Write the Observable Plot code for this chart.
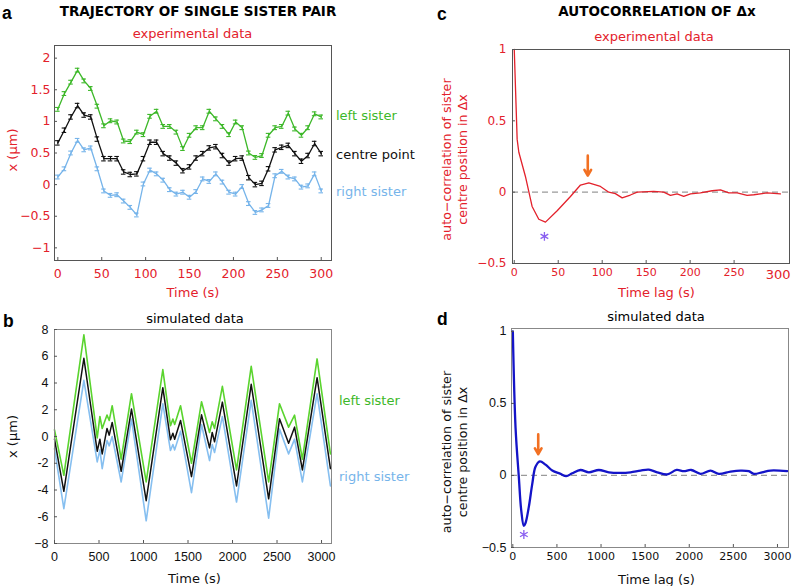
<!DOCTYPE html>
<html><head><meta charset="utf-8">
<script src="https://cdn.jsdelivr.net/npm/d3@7"></script>
<script src="https://cdn.jsdelivr.net/npm/@observablehq/plot@0.6"></script>
<style>
body{margin:0;background:#fff;}
#fig{position:relative;width:794px;height:586px;overflow:hidden;background:#fff;font-family:"DejaVu Sans",sans-serif;}
.t{position:absolute;white-space:nowrap;line-height:1;}
</style></head><body><div id="fig"></div><script>
// ---------- Panel a: experimental trajectory (time in s, x in µm) ----------
const timeA = [0,7.5,15,22.5,30,37.5,45,52.5,60,67.5,75,82.5,90,97.5,105,112.5,120,127.5,135,142.5,150,157.5,165,172.5,180,187.5,195,202.5,210,217.5,225,232.5,240,247.5,255,262.5,270,277.5,285,292.5,300];
const leftA = [1.19,1.44,1.62,1.81,1.64,1.52,1.24,0.93,1.01,0.99,0.69,0.68,0.83,0.79,1.08,1.16,0.92,0.92,0.83,0.57,0.78,0.90,0.90,1.16,1.04,0.92,0.79,0.99,0.90,0.50,0.43,0.46,0.78,0.90,0.92,1.13,0.88,0.78,0.90,1.12,1.07];
const centreA = [0.66,0.86,1.07,1.25,1.10,1.07,0.72,0.41,0.41,0.41,0.20,0.16,0.17,0.41,0.67,0.67,0.49,0.42,0.34,0.22,0.28,0.42,0.49,0.58,0.60,0.46,0.34,0.41,0.42,0.11,0.00,0.02,0.25,0.55,0.59,0.62,0.49,0.37,0.46,0.65,0.49];
const rightA = [0.12,0.25,0.50,0.70,0.55,0.58,0.25,-0.10,-0.17,-0.16,-0.26,-0.36,-0.48,0.01,0.23,0.17,0.07,-0.08,-0.15,-0.12,-0.20,-0.11,0.09,0.05,0.17,0.04,-0.12,-0.15,-0.03,-0.30,-0.44,-0.40,-0.33,0.14,0.21,0.12,0.09,-0.04,-0.02,0.17,-0.10];
const errA = {left: 0.03, centre: 0.035, right: 0.03};   // half-height of error bars (µm)
const capA = 2.6;                                          // half-width of error-bar caps (s)
const ticksAx = [0,50,100,150,200,250,300];
const ticksAy = [-1,-0.5,0,0.5,1,1.5,2];

// ---------- Panel b: simulated trajectory ----------
const timeB = [0,105,330,480,510,536,590,615,648,749,865,1030,1217,1303,1330,1350,1416,1539,1652,1742,1772,1798,1886,2045,2210,2406,2528,2630,2697,2785,2950,3100];
const leftB = [0.5,-2.9,7.6,-0.1,1.5,0.6,1.6,1.2,2.3,-1.7,3.2,-3.4,5.0,0.8,1.3,0.9,2.3,-2.0,2.6,0.3,1.1,0.6,3.75,-2.5,5.25,-3.4,2.45,0.7,1.6,-1.7,5.8,-1.3];
const centreB = [-0.2,-4.1,5.85,-1.1,-0.2,-1.3,0.6,0.1,1.05,-2.6,2.05,-4.8,3.65,-0.25,0.25,-0.2,1.2,-3.0,1.62,-0.85,0.3,-0.4,2.57,-3.7,3.9,-4.66,1.32,-0.5,0.7,-2.5,4.4,-2.4];
const rightB = [-0.9,-5.4,4.2,-1.9,-1.0,-2.4,-0.3,-0.7,0.0,-3.4,1.3,-6.3,2.45,-1.05,-0.6,-1.0,0.4,-4.2,0.9,-1.8,-0.6,-1.2,1.5,-4.9,2.7,-6.1,0.55,-1.3,-0.2,-3.4,3.2,-3.7];
const ticksBx = [0,500,1000,1500,2000,2500,3000];
const ticksBy = [-8,-6,-4,-2,0,2,4,6,8];

// ---------- Panel c: autocorrelation, experimental ----------
const lagC = [0,3.3,5.2,12.7,20.3,27.9,35.5,48.8,63.9,75.3,84.8,98,107.5,115,122.7,132,139.8,158.6,170,177.6,185.2,192.7,200.4,211.7,225,234.5,244,253.5,264.8,272.4,287.6,302.7];
const acfC = [1.0,0.37,0.28,0.11,-0.10,-0.19,-0.21,-0.13,-0.03,0.05,0.065,0.04,0.0,-0.01,-0.04,-0.02,0.0,0.005,0.0,-0.023,-0.012,-0.03,-0.012,-0.005,0.01,0.016,-0.005,-0.005,-0.023,-0.018,-0.005,-0.012];
const arrowLagC = [83.6], arrowFromC = [0.256], arrowToC = [0.116];
const starLagC = [34.3], starValC = [-0.31];
const ticksCx = [0,50,100,150,200,250];
const bigTickC = [300];
const ticksCy = [-0.5,0,0.5,1];

// ---------- Panel d: autocorrelation, simulated ----------
const lagD = [0,31,68,95,125,144,181,220,257,306,371,447,541,605,673,767,862,975,1088,1221,1334,1448,1542,1637,1750,1856,1939,2022,2128,2241,2335,2468,2581,2675,2732,2827,2921,3110];
const acfD = [1.0,0.33,-0.01,-0.24,-0.35,-0.33,-0.22,-0.06,0.06,0.098,0.075,0.034,0.011,-0.005,0.015,0.038,0.022,0.038,0.022,0.018,0.022,0.034,0.04,0.022,0.007,0.038,0.03,0.038,0.011,0.034,0.011,0.027,0.034,0.03,0.011,0.022,0.034,0.03];
const arrowLagD = [288], arrowFromD = [0.285], arrowToD = [0.148];
const starLagD = [125], starValD = [-0.41];
const ticksDx = [0,500,1000,1500,2000,2500,3000];
const ticksDy = [-0.5,0,0.5,1];

// ---------- colours ----------
const RED = "#e3212b", GREEN = "#3db829", BLUE = "#76b4ea";
const GREEN_B = "#5ad42e", BLUE_B = "#86bff0";
const ORANGE = "#f27022", PURPLE = "#8a5ff0", NAVY = "#1414c8";

const fig = document.getElementById("fig");
function put(node, left, top) {
  node.style.position = "absolute"; node.style.left = left + "px"; node.style.top = top + "px";
  fig.appendChild(node);
}
function label(text, x, yc, o = {}) {
  const size = o.size || 13;
  const d = document.createElement("div");
  d.className = "t"; d.textContent = text;
  d.style.fontSize = size + "px";
  d.style.fontWeight = o.weight || "normal";
  d.style.color = o.color || "#000";
  d.style.fontFamily = `"${o.family || "DejaVu Sans"}"`;
  d.style.left = x + "px"; d.style.top = (yc - size * 0.55) + "px";
  if (o.center) d.style.transform = "translateX(-50%)";
  fig.appendChild(d);
}
const id = d => d;
const minus = d => d < 0 ? "−" + (-d) : String(d);
const plain = d => String(d);
function errorMarks(times, vals, err, color) {
  return [
    Plot.ruleX(times, {x: id, y1: (d, i) => vals[i] - err, y2: (d, i) => vals[i] + err, stroke: color, strokeWidth: 1.1}),
    Plot.ruleY(times, {y: (d, i) => vals[i] + err, x1: d => d - capA, x2: d => d + capA, stroke: color, strokeWidth: 1.1}),
    Plot.ruleY(times, {y: (d, i) => vals[i] - err, x1: d => d - capA, x2: d => d + capA, stroke: color, strokeWidth: 1.1})
  ];
}

// ---------- Panel a ----------
const plotA = Plot.plot({
  width: 340, height: 265, marginLeft: 54, marginRight: 9, marginTop: 5, marginBottom: 45,
  x: {domain: [-3.8, 311.7]}, y: {domain: [-1.2, 2.2]},
  style: {fontFamily: "DejaVu Sans", fontSize: "12.5px", background: "transparent", overflow: "visible"},
  marks: [
    Plot.line(timeA, {x: id, y: (d, i) => leftA[i], stroke: GREEN, strokeWidth: 1.3}),
    ...errorMarks(timeA, leftA, errA.left, GREEN),
    Plot.line(timeA, {x: id, y: (d, i) => rightA[i], stroke: BLUE, strokeWidth: 1.3}),
    ...errorMarks(timeA, rightA, errA.right, BLUE),
    Plot.line(timeA, {x: id, y: (d, i) => centreA[i], stroke: "#111", strokeWidth: 1.3}),
    ...errorMarks(timeA, centreA, errA.centre, "#111"),
    Plot.frame({stroke: "#555"}),
    Plot.axisX({ticks: ticksAx, tickFormat: plain, tickSize: -3, tickPadding: 12, label: null, fill: RED, stroke: "#555"}),
    Plot.axisY({ticks: ticksAy, tickFormat: minus, tickSize: -3, tickPadding: 7, label: null, fill: RED, stroke: "#555"}),
    Plot.text(["Time (s)"], {frameAnchor: "bottom", dy: 32, text: id, fill: RED, fontSize: 13, textAnchor: "middle", lineAnchor: "middle"}),
    Plot.text(["x (μm)"], {frameAnchor: "left", dx: -41.5, dy: -3, rotate: -90, text: id, fill: RED, fontSize: 13, textAnchor: "middle", lineAnchor: "middle"})
  ]
});
put(plotA, 0, 40);

// ---------- Panel b ----------
const plotB = Plot.plot({
  width: 340, height: 265, marginLeft: 54, marginRight: 9, marginTop: 9, marginBottom: 42,
  x: {domain: [0, 3112]}, y: {domain: [-8, 8]},
  style: {fontFamily: "Liberation Sans", fontSize: "12.5px", background: "transparent", overflow: "visible"},
  marks: [
    Plot.line(timeB, {x: id, y: (d, i) => leftB[i], stroke: GREEN_B, strokeWidth: 1.6}),
    Plot.line(timeB, {x: id, y: (d, i) => rightB[i], stroke: BLUE_B, strokeWidth: 1.6}),
    Plot.line(timeB, {x: id, y: (d, i) => centreB[i], stroke: "#111", strokeWidth: 1.5}),
    Plot.frame({stroke: "#888"}),
    Plot.axisX({ticks: ticksBx, tickFormat: plain, tickSize: -3, tickPadding: 12, label: null, fill: "#111", stroke: "#555"}),
    Plot.axisY({ticks: ticksBy, tickSize: -3, tickPadding: 9, label: null, fill: "#111", stroke: "#555",
      tickFormat: d => d === -8 ? "−8" : String(d)}),
    Plot.text(["Time (s)"], {frameAnchor: "bottom", dy: 35, dx: 1.5, text: id, fill: "#111", fontSize: 13, fontFamily: "DejaVu Sans", textAnchor: "middle", lineAnchor: "middle"}),
    Plot.text(["x (μm)"], {frameAnchor: "left", dx: -42, rotate: -90, text: id, fill: "#111", fontSize: 13, fontFamily: "DejaVu Sans", textAnchor: "middle", lineAnchor: "middle"})
  ]
});
put(plotB, 0, 320);

// ---------- Panel c ----------
const plotC = Plot.plot({
  width: 394, height: 268, marginLeft: 112, marginRight: 5, marginTop: 9, marginBottom: 45,
  x: {domain: [-2, 313]}, y: {domain: [-0.5, 1]},
  style: {fontFamily: "DejaVu Sans", fontSize: "12px", background: "transparent", overflow: "visible"},
  marks: [
    Plot.ruleY([0], {stroke: "#9a9a9a", strokeDasharray: "6,4", strokeWidth: 1.3}),
    Plot.line(lagC, {x: id, y: (d, i) => acfC[i], stroke: RED, strokeWidth: 1.3}),
    Plot.arrow(arrowLagC, {x1: id, x2: id, y1: (d, i) => arrowFromC[i], y2: (d, i) => arrowToC[i], stroke: ORANGE, strokeWidth: 2.6, headLength: 9}),
    Plot.dot(starLagC, {x: id, y: (d, i) => starValC[i], symbol: "asterisk", r: 4.2, stroke: PURPLE, strokeWidth: 1.3}),
    Plot.frame({stroke: "#555"}),
    Plot.axisX({ticks: ticksCx, tickFormat: plain, tickSize: -3, tickPadding: 8, label: null, fill: RED, stroke: "#555", fontSize: 11}),
    Plot.text(bigTickC, {x: id, frameAnchor: "bottom", dy: 11, text: d => String(d), fill: RED, fontSize: 13, textAnchor: "middle", lineAnchor: "middle"}),
    Plot.axisY({ticks: ticksCy, tickFormat: minus, tickSize: -3, tickPadding: 9, label: null, fill: RED, stroke: "#555"}),
    Plot.text(["Time lag (s)"], {frameAnchor: "bottom", dy: 29.5, dx: 5.5, text: id, fill: RED, fontSize: 13, textAnchor: "middle", lineAnchor: "middle"}),
    Plot.text(["auto−correlation of sister\ncentre position in Δx"], {frameAnchor: "left", dx: -59, dy: 3, rotate: -90, text: id, fill: RED, fontSize: 12.7, lineHeight: 1.25, textAnchor: "middle", lineAnchor: "middle"})
  ]
});
put(plotC, 400, 40);

// ---------- Panel d ----------
const plotD = Plot.plot({
  width: 394, height: 266, marginLeft: 111, marginRight: 6, marginTop: 8, marginBottom: 39,
  x: {domain: [-15, 3125]}, y: {domain: [-0.5, 1.02]},
  style: {fontFamily: "DejaVu Sans", fontSize: "11px", background: "transparent", overflow: "visible"},
  marks: [
    Plot.ruleY([0], {stroke: "#9a9a9a", strokeDasharray: "6,4", strokeWidth: 1.3}),
    Plot.line(lagD, {x: id, y: (d, i) => acfD[i], stroke: NAVY, strokeWidth: 2.3, curve: "catmull-rom"}),
    Plot.arrow(arrowLagD, {x1: id, x2: id, y1: (d, i) => arrowFromD[i], y2: (d, i) => arrowToD[i], stroke: ORANGE, strokeWidth: 2.6, headLength: 9}),
    Plot.dot(starLagD, {x: id, y: (d, i) => starValD[i], symbol: "asterisk", r: 4.2, stroke: PURPLE, strokeWidth: 1.3}),
    Plot.frame({stroke: "#888"}),
    Plot.axisX({ticks: ticksDx, tickFormat: plain, tickSize: -3, tickPadding: 8, label: null, fill: "#111", stroke: "#555"}),
    Plot.axisY({ticks: ticksDy, tickFormat: minus, tickSize: -3, tickPadding: 8, label: null, fill: "#111", stroke: "#555", fontFamily: "Liberation Sans", fontSize: 12.5}),
    Plot.text(["Time lag (s)"], {frameAnchor: "bottom", dy: 32, dx: 6.5, text: id, fill: "#111", fontSize: 13, textAnchor: "middle", lineAnchor: "middle"}),
    Plot.text(["auto−correlation of sister\ncentre position in Δx"], {frameAnchor: "left", dx: -58, dy: 14, rotate: -90, text: id, fill: "#111", fontSize: 12.7, lineHeight: 1.25, textAnchor: "middle", lineAnchor: "middle"})
  ]
});
put(plotD, 400, 320);

// ---------- titles, panel letters, series labels ----------
label("a", 2, 15, {size: 17.5, weight: "bold", family: "Liberation Sans"});
label("b", 3, 323, {size: 17.5, weight: "bold", family: "Liberation Sans"});
label("c", 437, 16, {size: 17.5, weight: "bold", family: "Liberation Sans"});
label("d", 437, 321, {size: 17.5, weight: "bold", family: "Liberation Sans"});
label("TRAJECTORY OF SINGLE SISTER PAIR", 198, 12, {size: 13.5, weight: "bold", center: true});
label("AUTOCORRELATION OF Δx", 657, 12, {size: 13.5, weight: "bold", center: true});
label("experimental data", 192.5, 34.5, {color: RED, center: true});
label("experimental data", 654, 37, {color: RED, center: true});
label("simulated data", 195, 319, {center: true});
label("simulated data", 656, 317, {center: true});
label("left sister", 336, 116, {color: GREEN});
label("centre point", 336, 155, {color: "#111"});
label("right sister", 336, 192, {color: BLUE});
label("left sister", 339, 401, {color: GREEN});
label("right sister", 339, 477, {color: BLUE});
</script></body></html>
